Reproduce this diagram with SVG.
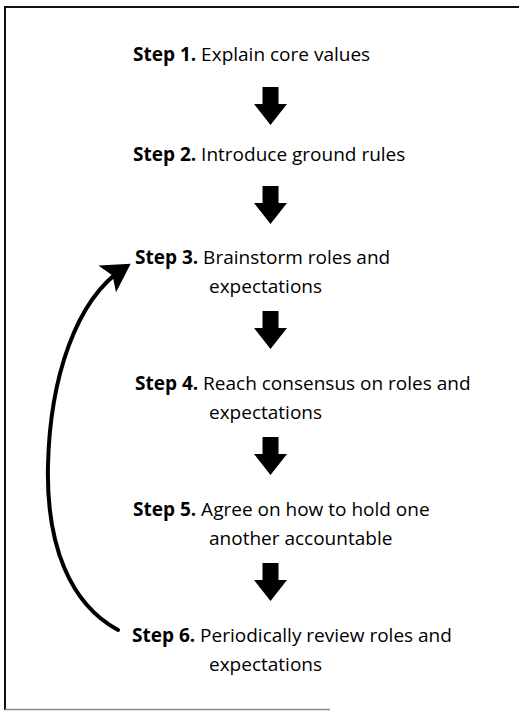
<svg xmlns="http://www.w3.org/2000/svg" width="519" height="711" viewBox="0 0 519 711">
  <style>
    .t { font-family: "Open Sans", "Noto Sans", "Liberation Sans", sans-serif; font-size: 19px; fill: #000; }
    .b { font-weight: 700; }
    .down { fill: #000; }
    .loop { fill: none; stroke: #000; stroke-width: 4; stroke-linecap: round; }
  </style>
  <defs>
    <path id="downArrow" d="M-8,0 H8 V17 H16.5 L0,38 L-16.5,17 H-8 Z"/>
    <marker id="head" markerWidth="8" markerHeight="8" refX="5" refY="4" orient="auto" markerUnits="strokeWidth">
      <path d="M0,0 L7,4 L0,8 L1.6,4 Z" fill="#000"/>
    </marker>
  </defs>
  <rect width="519" height="711" fill="#fff"/>

  <!-- frame: top rule, left rule, faint bottom rule -->
  <g id="frame">
    <line x1="5" y1="7" x2="519" y2="7" stroke="#111" stroke-width="2"/>
    <line x1="5" y1="6" x2="5" y2="710" stroke="#111" stroke-width="2"/>
    <line x1="5" y1="709.5" x2="330" y2="709.5" stroke="#888" stroke-width="1.5"/>
  </g>

  <g id="step1">
    <text class="t" x="133" y="61"><tspan class="b">Step 1.</tspan> Explain core values</text>
  </g>
  <g id="step2">
    <text class="t" x="133" y="161"><tspan class="b">Step 2.</tspan> Introduce ground rules</text>
  </g>
  <g id="step3">
    <text class="t" x="135" y="264"><tspan class="b">Step 3.</tspan> Brainstorm roles and</text>
    <text class="t" x="209" y="293">expectations</text>
  </g>
  <g id="step4">
    <text class="t" x="135" y="390"><tspan class="b">Step 4.</tspan> Reach consensus on roles and</text>
    <text class="t" x="209" y="419">expectations</text>
  </g>
  <g id="step5">
    <text class="t" x="133" y="516"><tspan class="b">Step 5.</tspan> Agree on how to hold one</text>
    <text class="t" x="209" y="545">another accountable</text>
  </g>
  <g id="step6">
    <text class="t" x="132" y="642"><tspan class="b">Step 6.</tspan> Periodically review roles and</text>
    <text class="t" x="209" y="671">expectations</text>
  </g>

  <g id="connectors">
    <use href="#downArrow" class="down" x="270.5" y="87"/>
    <use href="#downArrow" class="down" x="270.5" y="186"/>
    <use href="#downArrow" class="down" x="270.5" y="311"/>
    <use href="#downArrow" class="down" x="270.5" y="437"/>
    <use href="#downArrow" class="down" x="270.5" y="563"/>
    <path class="loop" d="M118,630 C70,604 46,545 48,465 C50,380 75,300 124,268" marker-end="url(#head)"/>
  </g>
</svg>
